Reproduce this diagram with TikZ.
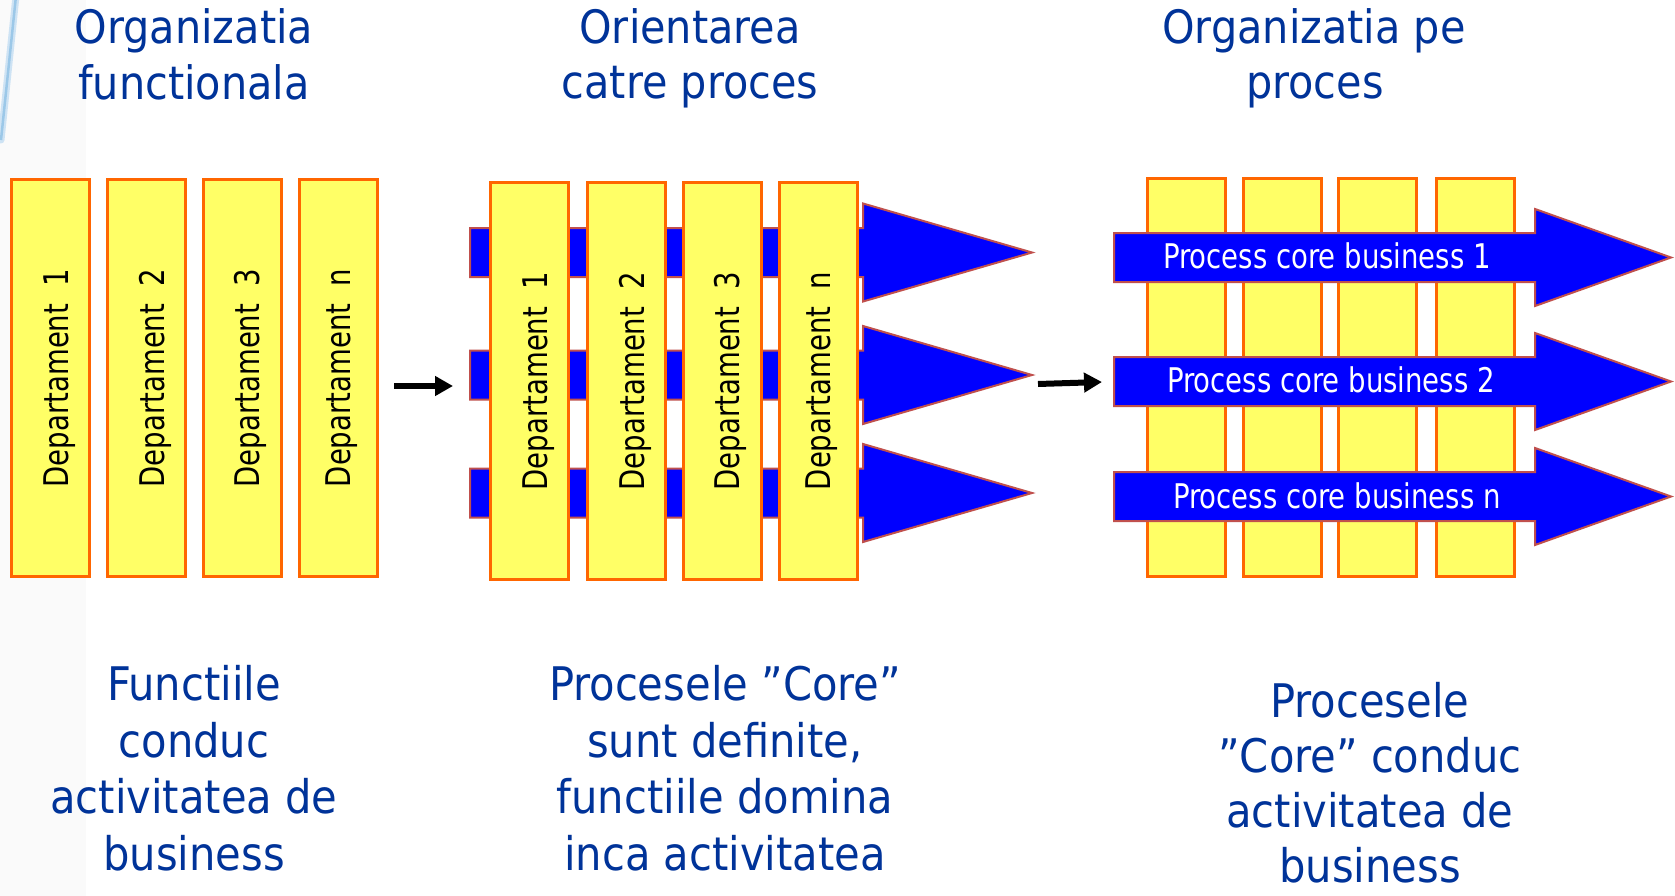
\documentclass[tikz,border=0pt]{standalone}
\usepackage{fontspec}
\setmainfont{DejaVu Sans Condensed}
\newfontfamily\labelface[FakeStretch=0.9]{DejaVu Sans Condensed}
\usetikzlibrary{arrows.meta}

\definecolor{deptfill}{HTML}{FFFF66}
\definecolor{deptline}{HTML}{FF6600}
\definecolor{procfill}{HTML}{0000FF}
\definecolor{procline}{HTML}{C0504D}
\definecolor{headblue}{HTML}{003399}
\definecolor{edgeblue}{HTML}{9CC8E8}
\definecolor{bandgray}{HTML}{FAFAFA}

\tikzset{
  dept/.style={draw=deptline, fill=deptfill, line width=3pt, inner sep=0pt, outer sep=0pt, rectangle,
    minimum width=78pt, minimum height=397pt},
  proc/.style={draw=procline, fill=procfill, line width=2pt, line join=miter},
  deptlabel/.style={rotate=90, anchor=base, inner sep=0pt, font=\labelface\fontsize{34}{40}\selectfont},
  proclabel/.style={anchor=base, inner sep=0pt, text=white, font=\labelface\fontsize{34}{40}\selectfont},
  title/.style={anchor=base, inner sep=0pt, text=headblue, font=\fontsize{46}{55}\selectfont},
  caption/.style={anchor=base, inner sep=0pt, text=headblue, font=\fontsize{46.3}{56}\selectfont},
  flow/.style={line width=6pt, -{Triangle[length=18pt,width=19pt]}},
}

% process arrow: #1 left x, #2 head base x, #3 tip x, #4 centre y, #5 half shaft, #6 half head
\newcommand{\procarrow}[6]{%
  \path[proc] (#1,#4-#5) -- (#2,#4-#5) -- (#2,#4-#6) -- (#3,#4)
    -- (#2,#4+#6) -- (#2,#4+#5) -- (#1,#4+#5) -- cycle;}

\begin{document}
\begin{tikzpicture}[x=1pt,y=-1pt]
\useasboundingbox (0,0) rectangle (1675,896);
\fill[white] (0,0) rectangle (1675,896);
\fill[bandgray] (0,0) rectangle (86,896);
\draw[edgeblue!50, line width=7pt, line cap=round] (16,-4) -- (1,140);
\draw[edgeblue, line width=2.5pt] (16,-4) -- (1,140);

% ---------- titles ----------
\node[title] (t1a) at (194,44) {Organizatia};
\node[title] (t1b) at (194,100) {functionala};
\node[title] (t2a) at (690,44) {Orientarea};
\node[title] (t2b) at (690,99) {catre proces};
\node[title] (t3a) at (1314,44) {Organizatia pe};
\node[title] (t3b) at (1315,99) {proces};

% ---------- functional organisation ----------
\foreach \i/\x/\lab/\dx in {1/50.5/1/18, 2/146.5/2/18, 3/242.5/3/17, 4/338.5/n/12}{
  \node[dept] (L\i) at (\x,378) {};
  \node[deptlabel] (L\i t) at ([xshift=\dx pt]L\i.center) {Departament\ \ \lab};
}

% ---------- process orientation ----------
\procarrow{470}{863}{1032}{252.5}{24.5}{49}
\procarrow{470}{863}{1032}{375}{24.5}{49}
\procarrow{470}{863}{1032}{493}{24.5}{49}
\foreach \i/\x/\lab/\dx in {1/529.5/1/18, 2/626/2/18, 3/722/3/17, 4/818/n/12}{
  \node[dept] (M\i) at (\x,381) {};
  \node[deptlabel] (M\i t) at ([xshift=\dx pt]M\i.center) {Departament\ \ \lab};
}

% ---------- process organisation ----------
\foreach \i/\x in {1/1186, 2/1282, 3/1377, 4/1475}{
  \node[dept, minimum height=398pt] (R\i) at (\x,377.5) {};
}
\procarrow{1114}{1535}{1671}{257.5}{24.5}{48.5}
\procarrow{1114}{1535}{1671}{381.5}{24.5}{48.5}
\procarrow{1114}{1535}{1671}{496.5}{24.5}{48.5}
\node[proclabel] (p1) at (1327,268) {Process core business 1};
\node[proclabel] (p2) at (1331,392) {Process core business 2};
\node[proclabel] (p3) at (1337,508) {Process core business n};

% ---------- transitions ----------
\coordinate (a1s) at (394,386);
\coordinate (a1e) at (453,386);
\coordinate (a2s) at (1038,384);
\coordinate (a2e) at (1102,382);
\draw[flow] (a1s) -- (a1e);
\draw[flow] (a2s) -- (a2e);

% ---------- captions ----------
\node[caption] (c1a) at (194,700) {Functiile};
\node[caption] (c1b) at (194,757) {conduc};
\node[caption] (c1c) at (194,813) {activitatea de};
\node[caption] (c1d) at (194,870) {business};

\node[caption] (c2a) at (725,700) {Procesele ”Core”};
\node[caption] (c2b) at (725,757) {sunt definite,};
\node[caption] (c2c) at (725,813) {functiile domina};
\node[caption] (c2d) at (725,870) {inca activitatea};

\node[caption] (c3a) at (1370,717) {Procesele};
\node[caption] (c3b) at (1370,772) {”Core” conduc};
\node[caption] (c3c) at (1370,827) {activitatea de};
\node[caption] (c3d) at (1370,882) {business};
\end{tikzpicture}
\end{document}
